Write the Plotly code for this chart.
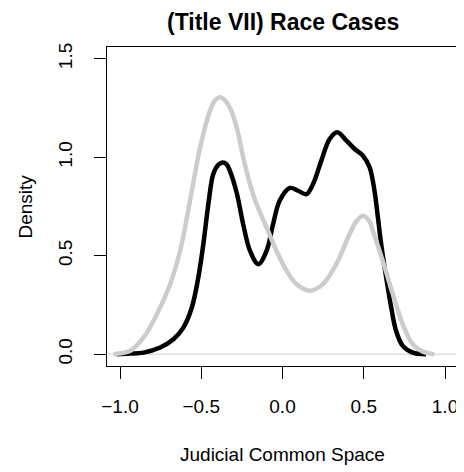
import plotly.graph_objects as go

# Black density curve
black_x = [-1.02, -0.94, -0.855, -0.753, -0.671, -0.61, -0.558, -0.518, -0.487, -0.456,
           -0.426, -0.395, -0.368, -0.345, -0.323, -0.282, -0.242, -0.2, -0.149, -0.098,
           -0.058, -0.017, 0.045, 0.096, 0.147, 0.188, 0.239, 0.29, 0.337, 0.393,
           0.444, 0.495, 0.536, 0.566, 0.587, 0.607, 0.638, 0.669, 0.699, 0.74,
           0.801, 0.883]
black_y = [0.0, 0.003, 0.008, 0.034, 0.076, 0.135, 0.237, 0.39, 0.56, 0.763,
           0.915, 0.962, 0.974, 0.965, 0.93, 0.82, 0.66, 0.525, 0.457, 0.525,
           0.66, 0.78, 0.844, 0.83, 0.813, 0.864, 0.983, 1.093, 1.127, 1.085,
           1.042, 1.008, 0.949, 0.83, 0.695, 0.56, 0.39, 0.237, 0.118, 0.042,
           0.008, 0.0]

# Grey density curve
grey_x = [-1.04, -0.937, -0.855, -0.773, -0.691, -0.63, -0.569, -0.507, -0.446, -0.415,
          -0.385, -0.355, -0.323, -0.282, -0.242, -0.2, -0.16, -0.098, -0.037, 0.025,
          0.086, 0.167, 0.249, 0.331, 0.413, 0.455, 0.495, 0.535, 0.556, 0.617,
          0.679, 0.74, 0.801, 0.863, 0.934]
grey_y = [0.0, 0.017, 0.085, 0.203, 0.356, 0.525, 0.78, 1.05, 1.237, 1.29,
          1.305, 1.29, 1.25, 1.152, 1.0, 0.864, 0.763, 0.644, 0.525, 0.424,
          0.356, 0.322, 0.356, 0.457, 0.61, 0.675, 0.703, 0.675, 0.627, 0.474,
          0.305, 0.152, 0.051, 0.013, 0.0]

x_ticks = [-1.0, -0.5, 0.0, 0.5, 1.0]
x_tick_labels = ["\u22121.0", "\u22120.5", "0.0", "0.5", "1.0"]
y_ticks = [0.0, 0.5, 1.0, 1.5]
y_tick_labels = ["0.0", "0.5", "1.0", "1.5"]

title_text = "<b>(Title VII) Race Cases</b>"
x_title = "Judicial Common Space"
y_title = "Density"

FONT = "Liberation Sans, Arial, Helvetica, sans-serif"
OFF = 8  # default page body margin
W, H = 464 - OFF, 472 - OFF
ML, MR, MT, MB = 107 - OFF, 6, 47 - OFF, 106
PW, PH = W - ML - MR, H - MT - MB
PLOT_BOTTOM = MT + PH

fig = go.Figure()
# zero reference line
fig.add_trace(go.Scatter(x=[-1.08, 1.08], y=[0, 0], mode="lines",
                         line=dict(color="#e0e0e0", width=1.5),
                         hoverinfo="skip", showlegend=False))
fig.add_trace(go.Scatter(x=black_x, y=black_y, mode="lines",
                         line=dict(color="black", width=4.5, shape="spline", smoothing=1.0),
                         showlegend=False))
fig.add_trace(go.Scatter(x=grey_x, y=grey_y, mode="lines",
                         line=dict(color="#cccccc", width=4.5, shape="spline", smoothing=1.0),
                         showlegend=False))

fig.update_layout(
    width=W, height=H,
    margin=dict(l=ML, r=MR, t=MT, b=MB, autoexpand=False),
    paper_bgcolor="white", plot_bgcolor="white",
    font=dict(family=FONT, color="black", size=19),
    showlegend=False,
    annotations=[
        dict(text=title_text, xref="paper", yref="paper", x=0.5,
             y=(PLOT_BOTTOM - (22 - OFF)) / PH, xanchor="center", yanchor="middle",
             showarrow=False, font=dict(size=23, family=FONT, color="black")),
        dict(text=x_title, xref="paper", yref="paper", x=0.5,
             y=-((454 - OFF) - PLOT_BOTTOM) / PH, xanchor="center", yanchor="middle",
             showarrow=False, font=dict(size=19, family=FONT, color="black")),
        dict(text=y_title, xref="paper", yref="paper", x=-(ML - (25 - OFF)) / PW,
             y=0.5, xanchor="center", yanchor="middle", textangle=-90,
             showarrow=False, font=dict(size=19, family=FONT, color="black")),
    ],
)
fig.update_xaxes(range=[-1.08, 1.08], tickvals=x_ticks, ticktext=x_tick_labels,
                 showgrid=False, zeroline=False, showline=True, mirror=True,
                 linecolor="black", linewidth=1, ticks="outside", ticklen=12,
                 tickcolor="black", tickwidth=1, ticklabelstandoff=11,
                 ticklabeloverflow="allow", automargin=False,
                 tickfont=dict(size=19, family=FONT))
fig.update_yaxes(range=[-0.06, 1.56], tickvals=y_ticks, ticktext=y_tick_labels,
                 showgrid=False, zeroline=False, showline=True, mirror=True,
                 linecolor="black", linewidth=1, ticks="outside", ticklen=12,
                 tickcolor="black", tickwidth=1, tickangle=-90, ticklabelstandoff=14,
                 ticklabeloverflow="allow", automargin=False,
                 tickfont=dict(size=19, family=FONT))

fig.write_html("out.html")
